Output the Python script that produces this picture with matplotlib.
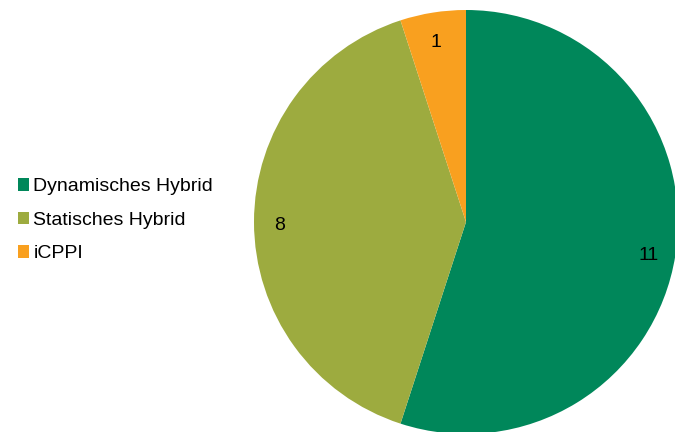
import matplotlib.pyplot as plt
import matplotlib.transforms as mtransforms
from matplotlib.patches import Patch

plt.rcParams["font.family"] = ["Liberation Sans", "DejaVu Sans"]

categories = ["Dynamisches Hybrid", "Statisches Hybrid", "iCPPI"]
counts = [11, 8, 1]
colors = ["#00875A", "#9DAB3F", "#F9A01F"]

W, H = 675, 432
fig = plt.figure(figsize=(W / 100, H / 100), dpi=100)

# pie centre ~ (466, 222) px, radius ~212 px
cx, cy, r = 466, 222, 212
ax = fig.add_axes([(cx - r) / W, (H - cy - r) / H, 2 * r / W, 2 * r / H])
wedges, texts = ax.pie(counts, colors=colors, startangle=90, counterclock=False,
                       labels=[str(c) for c in counts], labeldistance=0.875,
                       textprops={"fontsize": 14, "color": "black"},
                       wedgeprops={"linewidth": 0})
ax.set_xlim(-1, 1)
ax.set_ylim(-1, 1)
ax.set_aspect("equal")
shift = mtransforms.ScaledTranslation(-1 / 100, -4 / 100, fig.dpi_scale_trans)
for t in texts:
    t.set_ha("center")
    t.set_va("center")
    t.set_transform(t.get_transform() + shift)

handles = [Patch(facecolor=c, edgecolor="none") for c in colors]
fig.legend(handles, categories, loc="center left", bbox_to_anchor=(0.012, 0.49),
           frameon=False, fontsize=14, handlelength=0.6, handleheight=0.6,
           handletextpad=0.2, labelspacing=0.85, borderpad=0)

fig.savefig("out.png", dpi=100)
